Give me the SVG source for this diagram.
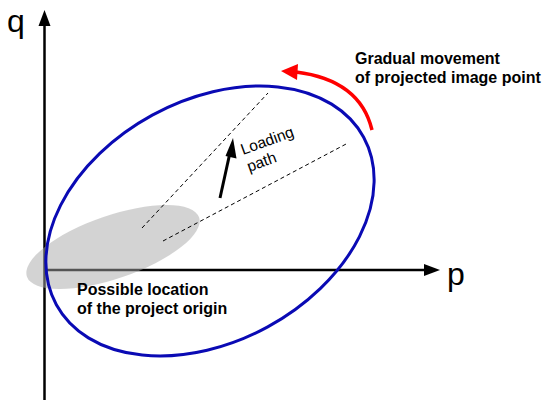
<svg xmlns="http://www.w3.org/2000/svg" width="549" height="400" viewBox="0 0 549 400">
<style>
.axis{stroke:#000;stroke-width:2.5;fill:none}
.dash{stroke:#000;stroke-width:1;stroke-dasharray:4 3;fill:none}
.lbl{font-family:"Liberation Sans",Arial,sans-serif;fill:#000}
.b{font-weight:bold;font-size:16px}
</style>
<g id="axes">
<line class="axis" x1="44.5" y1="400" x2="44.5" y2="24"/>
<path d="M38.5,26 L44.5,10 L50.5,26 z" fill="#000"/>
<line class="axis" x1="44" y1="270" x2="426" y2="270"/>
<path d="M424,264 L440,270 L424,276 z" fill="#000"/>
<text class="lbl" x="7" y="32" font-size="32">q</text>
<text class="lbl" x="447" y="285" font-size="32">p</text>
</g>
<g id="origin-region">
<ellipse cx="113" cy="247" rx="91" ry="31.5" transform="rotate(-19 113 247)" fill="#a8a8a8" fill-opacity="0.5"/>
</g>
<g id="yield-surface">
<ellipse cx="210" cy="221" rx="175" ry="120.6" transform="rotate(-28.6 210 221)" fill="none" stroke="#0a0ab4" stroke-width="3"/>
</g>
<g id="connectors">
<line class="dash" x1="142" y1="228" x2="268" y2="93"/>
<line class="dash" x1="163" y1="241" x2="348" y2="143"/>
<line x1="220" y1="198" x2="231" y2="148" stroke="#000" stroke-width="3"/>
<path d="M225.5,156 L233,138 L236.5,158.5 z" fill="#000"/>
<path d="M372,130 Q360,80 296,72" fill="none" stroke="#f00" stroke-width="3.5"/>
<path d="M298,64 L281,71 L297,80 z" fill="#f00"/>
</g>
<g id="labels">
<text class="lbl" font-size="15.5" transform="translate(243,155) rotate(-20)"><tspan x="0" y="0">Loading</tspan><tspan x="0" y="18">path</tspan></text>
<text class="lbl b" x="355" y="64">Gradual movement</text>
<text class="lbl b" x="355" y="83">of projected image point</text>
<text class="lbl b" x="77" y="295">Possible location</text>
<text class="lbl b" x="77" y="314">of the project origin</text>
</g>
</svg>
